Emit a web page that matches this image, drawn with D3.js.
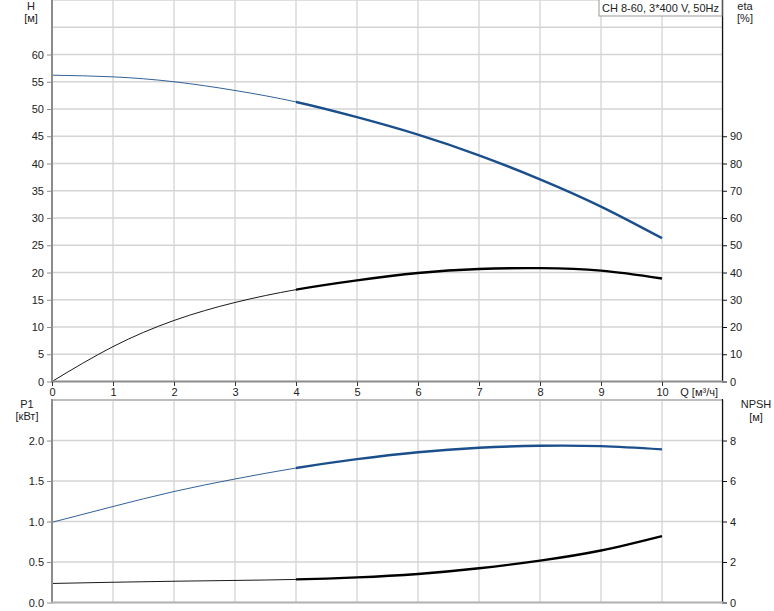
<!DOCTYPE html>
<html><head><meta charset="utf-8">
<script src="https://cdn.jsdelivr.net/npm/d3@7"></script>
<style>body{margin:0;background:#fff}svg{display:block;font-family:"Liberation Sans",Arial,sans-serif}</style>
</head><body>
<svg id="c" width="774" height="611"></svg>
<script>
const Q = [0,1,2,3,4,5,6,7,8,9,10];
const H = [56.2,55.9,55.0,53.4,51.3,48.5,45.3,41.5,37.1,32.1,26.3];
const ETA = [0,12.8,22.4,29.0,33.7,37.1,39.8,41.3,41.6,40.7,37.8];
const P1 = [0.99,1.185,1.37,1.525,1.66,1.77,1.855,1.91,1.935,1.93,1.89];
const NPSH = [0.94,1.0,1.05,1.09,1.14,1.24,1.41,1.69,2.07,2.57,3.28];
const qTicks = [0,1,2,3,4,5,6,7,8,9,10];
const hTicks = [0,5,10,15,20,25,30,35,40,45,50,55,60];
const etaTicks = [0,10,20,30,40,50,60,70,80,90];
const p1Ticks = [0,0.5,1.0,1.5,2.0];
const npshTicks = [0,2,4,6,8];
const title = "CH 8-60, 3*400 V, 50Hz";
const qStartThick = 4;

const svg = d3.select("#c");
const L = 52, R = 723;
const x = d3.scaleLinear().domain([0,11]).range([L,R]);
const yH = d3.scaleLinear().domain([0,70]).range([381.5,0]);
const yEta = d3.scaleLinear().domain([0,140]).range([381.5,0]);
const yP = d3.scaleLinear().domain([0,2.5]).range([602.5,400]);
const yN = d3.scaleLinear().domain([0,10]).range([602.5,400]);
const gridC = "#d4d4d4", axC = "#8c8c8c", txt = "#222", blue = "#1b4f8c";
const fs = 11;

function panel(y0, y1, yScale, gridVals){
  const g = svg.append("g");
  g.selectAll(".vg").data(d3.range(0,12)).join("line")
    .attr("x1",d=>x(d)).attr("x2",d=>x(d)).attr("y1",y0).attr("y2",y1)
    .attr("stroke",gridC).attr("stroke-width",1.3);
  g.selectAll(".hg").data(gridVals).join("line")
    .attr("x1",L).attr("x2",R).attr("y1",d=>yScale(d)).attr("y2",d=>yScale(d))
    .attr("stroke",gridC).attr("stroke-width",1.3);
}
panel(0, 381.5, yH, d3.range(5,71,5));
panel(400, 602.5, yP, [0.5,1.0,1.5,2.0,2.5]);
svg.append("line").attr("x1",L).attr("x2",R).attr("y1",400).attr("y2",400).attr("stroke","#bdbdbd").attr("stroke-width",2);

const defs = svg.append("defs");
defs.append("clipPath").attr("id","thin").append("rect").attr("x",0).attr("y",0).attr("width",x(qStartThick)).attr("height",611);
defs.append("clipPath").attr("id","thick").append("rect").attr("x",x(qStartThick)).attr("y",0).attr("width",774).attr("height",611);

function curve(vals, yScale, color){
  const line = d3.line().x((d,i)=>x(Q[i])).y(d=>yScale(d)).curve(d3.curveNatural);
  svg.append("path").attr("d",line(vals)).attr("fill","none").attr("stroke",color).attr("stroke-width",0.9).attr("clip-path","url(#thin)");
  svg.append("path").attr("d",line(vals)).attr("fill","none").attr("stroke",color).attr("stroke-width",2.4).attr("clip-path","url(#thick)");
}
curve(H, yH, blue);
curve(ETA, yEta, "#000");
curve(P1, yP, blue);
curve(NPSH, yN, "#000");

function vline(xx,y0,y1,c,w){svg.append("line").attr("x1",xx).attr("x2",xx).attr("y1",y0).attr("y2",y1).attr("stroke",c).attr("stroke-width",w);}
function hline(y,x0,x1,c,w){svg.append("line").attr("x1",x0).attr("x2",x1).attr("y1",y).attr("y2",y).attr("stroke",c).attr("stroke-width",w);}
vline(L,0,382.5,axC,2); vline(L,399,603.5,axC,2);
vline(722.5,0,382.5,"#111",1.2); vline(722.5,399,603.5,"#111",1.2);
hline(381.5,L-1,723,axC,2); hline(602.5,L-1,723,"#b0b0b0",2);

function axisL(scale, ticks, fmt){
  const a = d3.axisLeft(scale).tickValues(ticks).tickSize(4).tickPadding(3).tickFormat(fmt);
  const g = svg.append("g").attr("transform",`translate(${L-1},0)`).call(a);
  g.select(".domain").remove();
  g.selectAll("line").attr("stroke",axC);
  g.selectAll("text").attr("fill",txt).attr("font-size",fs).attr("font-family","Liberation Sans, Arial, sans-serif");
}
function axisR(scale, ticks, fmt){
  const a = d3.axisRight(scale).tickValues(ticks).tickSize(4).tickPadding(3).tickFormat(fmt);
  const g = svg.append("g").attr("transform",`translate(723,0)`).call(a);
  g.select(".domain").remove();
  g.selectAll("line").attr("stroke","#111");
  g.selectAll("text").attr("fill",txt).attr("font-size",fs).attr("font-family","Liberation Sans, Arial, sans-serif");
}
axisL(yH, hTicks, d3.format("d"));
axisR(yEta, etaTicks, d3.format("d"));
axisL(yP, p1Ticks, d3.format(".1f"));
axisR(yN, npshTicks, d3.format("d"));
const ax = d3.axisBottom(x).tickValues(qTicks).tickSize(4).tickPadding(2).tickFormat(d3.format("d"));
const gx = svg.append("g").attr("transform","translate(0,382)").call(ax);
gx.select(".domain").remove();
gx.selectAll("line").attr("stroke","#333");
gx.selectAll("text").attr("fill",txt).attr("font-size",fs).attr("font-family","Liberation Sans, Arial, sans-serif");

function label(t,xx,yy,anchor){svg.append("text").attr("x",xx).attr("y",yy).attr("text-anchor",anchor||"middle").attr("font-size",fs).attr("fill",txt).text(t);}
label("H",31,10); label("[м]",31,22);
label("eta",745,10); label("[%]",745,22);
label("P1",27,408); label("[кВт]",27,420);
label("NPSH",756,408); label("[м]",756,421);
label("Q [м³/ч]",718,396,"end");

const tg = svg.append("g");
const tt = tg.append("text").attr("x",719).attr("y",12).attr("text-anchor","end").attr("font-size",fs).attr("fill",txt).text(title);
const bb = tt.node().getBBox();
tg.insert("rect","text").attr("x",bb.x-3).attr("y",-1).attr("width",bb.width+6).attr("height",17).attr("fill","#fff").attr("stroke","#999").attr("stroke-width",1);
</script>
</body></html>
